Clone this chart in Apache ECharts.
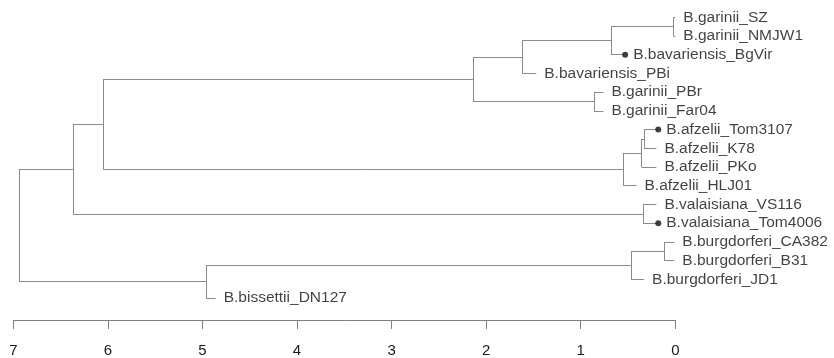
<!DOCTYPE html>
<html><head><meta charset="utf-8">
<script src="https://cdn.jsdelivr.net/npm/echarts@6/dist/echarts.min.js"></script>
<style>html,body{margin:0;padding:0;background:#fff}#c{width:834px;height:358px}</style>
</head><body><div id="c"></div>
<script>
// Leaves, top to bottom
const leafNames = [
  'B.garinii_SZ', 'B.garinii_NMJW1', 'B.bavariensis_BgVir', 'B.bavariensis_PBi',
  'B.garinii_PBr', 'B.garinii_Far04', 'B.afzelii_Tom3107', 'B.afzelii_K78',
  'B.afzelii_PKo', 'B.afzelii_HLJ01', 'B.valaisiana_VS116', 'B.valaisiana_Tom4006',
  'B.burgdorferi_CA382', 'B.burgdorferi_B31', 'B.burgdorferi_JD1', 'B.bissettii_DN127'
];
// Tip heights (distance from present, axis runs 7 -> 0)
const leafHeights = [0.0, 0.0, 0.53, 1.47, 0.76, 0.76, 0.18, 0.20, 0.20, 0.41, 0.20, 0.18, 0.01, 0.01, 0.33, 4.86];
// Leaves marked with a dot
const markedLeaves = ['B.bavariensis_BgVir', 'B.afzelii_Tom3107', 'B.valaisiana_Tom4006'];
// Internal nodes: children (leaf index < 16, else 16 + node index) and heights
const nodeChildren = [
  [0, 1], [16, 2], [17, 3], [4, 5], [18, 19],
  [6, 7], [21, 8], [22, 9], [20, 23],
  [10, 11], [24, 25],
  [12, 13], [27, 14], [28, 15],
  [26, 29]
];
const nodeHeights = [0.02, 0.68, 1.62, 0.86, 2.14, 0.33, 0.355, 0.55, 6.05, 0.34, 6.37, 0.12, 0.47, 4.96, 6.94];
const axisMin = 0, axisMax = 7, axisStep = 1;

const nLeaf = leafNames.length;
const heightOf = i => i < nLeaf ? leafHeights[i] : nodeHeights[i - nLeaf];
const yPos = [];
for (let i = 0; i < nLeaf; i++) yPos[i] = i;
nodeChildren.forEach((c, k) => { yPos[nLeaf + k] = (yPos[c[0]] + yPos[c[1]]) / 2; });
const segs = [];
nodeChildren.forEach((c, k) => {
  const h = nodeHeights[k];
  segs.push({ coords: [[h, yPos[c[0]]], [h, yPos[c[1]]]] });
  c.forEach(ch => segs.push({ coords: [[h, yPos[ch]], [heightOf(ch), yPos[ch]]] }));
});

const chart = echarts.init(document.getElementById('c'), null, { renderer: 'canvas' });
chart.setOption({
  animation: false,
  backgroundColor: '#fff',
  textStyle: { fontFamily: 'Liberation Sans, Arial, sans-serif' },
  grid: { left: 13.3, right: 158.7, top: 17.3, bottom: 58 },
  xAxis: {
    type: 'value', inverse: true, min: axisMin, max: axisMax, interval: axisStep,
    position: 'bottom', offset: 22,
    axisLine: { show: true, onZero: false, lineStyle: { color: '#808080', width: 1 } },
    axisTick: { show: true, length: 9, lineStyle: { color: '#808080' } },
    axisLabel: { margin: 23, fontSize: 15, color: '#1a1a1a' },
    splitLine: { show: false }
  },
  yAxis: { type: 'value', inverse: true, min: 0, max: nLeaf - 1, show: false },
  series: [
    {
      type: 'lines', coordinateSystem: 'cartesian2d', silent: true,
      lineStyle: { color: '#8a8a8a', width: 1, opacity: 1 },
      data: segs, clip: false
    },
    {
      type: 'scatter', symbolSize: 0, silent: true, clip: false,
      data: leafNames.map((n, i) => [leafHeights[i], i, n]),
      label: {
        show: true, position: 'right', distance: 8,
        formatter: p => p.data[2], fontSize: 15.5, color: '#111',
        fontFamily: 'Liberation Sans, Arial, sans-serif'
      }
    },
    {
      type: 'scatter', symbol: 'circle', symbolSize: 6, silent: true, clip: false,
      itemStyle: { color: '#111' },
      data: leafNames.map((n, i) => [leafHeights[i], i, n]).filter(d => markedLeaves.includes(d[2]))
    }
  ]
});
</script></body></html>
